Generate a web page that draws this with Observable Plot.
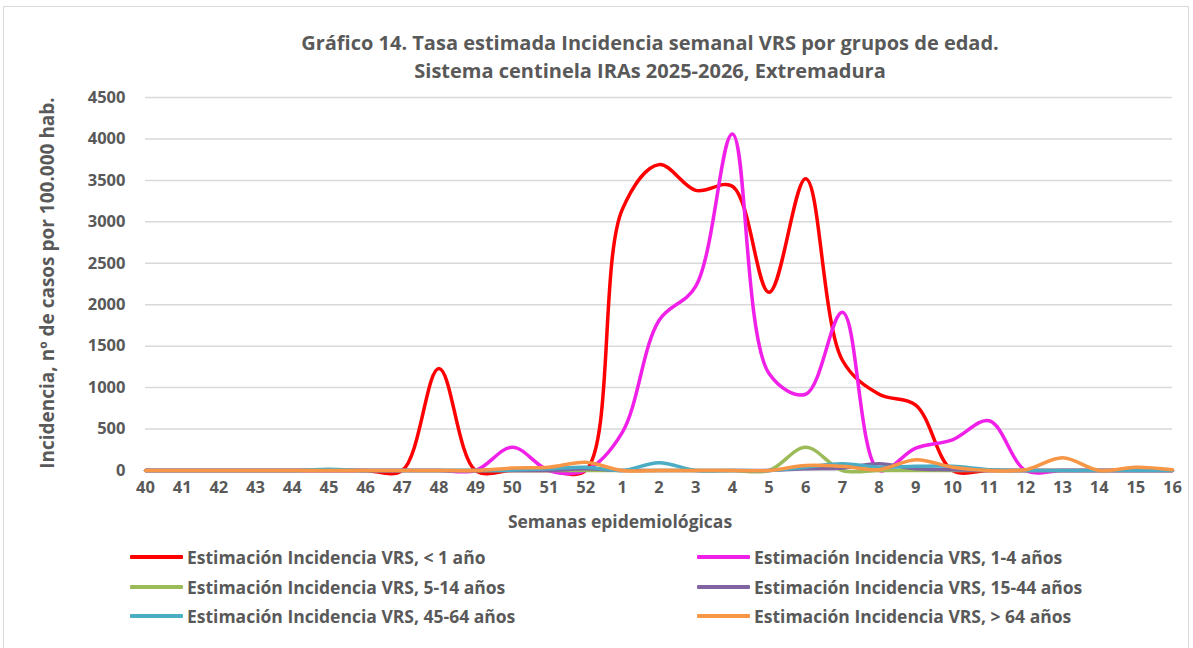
<!DOCTYPE html>
<html>
<head>
<meta charset="utf-8">
<script src="https://cdn.jsdelivr.net/npm/d3@7"></script>
<script src="https://cdn.jsdelivr.net/npm/@observablehq/plot@0.6"></script>
<style>
  html, body { margin: 0; padding: 0; background: #ffffff; }
  #root { position: relative; width: 1193px; height: 648px; overflow: hidden; font-family: "Open Sans", Lato, sans-serif; color: #595959; }
  #frame { position: absolute; left: 3px; top: 6px; width: 1186px; height: 645px; border: 1px solid #d9d9d9; box-sizing: border-box; }
  .title { position: absolute; left: 0; width: 1300px; text-align: center; font-weight: bold; font-size: 20px; white-space: nowrap; }
  #chart { position: absolute; left: 0; top: 80px; }
  #xtitle { position: absolute; left: 420px; width: 400px; top: 509px; text-align: center; font-weight: bold; font-size: 17.5px; }
  #ytitle { position: absolute; left: 47px; top: 283px; transform: translate(-50%, -50%) rotate(-90deg); white-space: nowrap; font-weight: bold; font-size: 19px; }
  .leg { position: absolute; display: flex; align-items: center; font-weight: bold; font-size: 17.5px; white-space: nowrap; height: 20px; }
  .leg .sw { width: 53px; height: 4px; margin-right: 4px; border-radius: 1px; }
</style>
</head>
<body>
<div id="root">
  <div id="frame"></div>
  <div class="title" id="t1" style="top:29px;"></div>
  <div class="title" id="t2" style="top:57px;"></div>
  <div id="chart"></div>
  <div id="xtitle"></div>
  <div id="ytitle"></div>
</div>
<script>
const titleLine1 = "Gráfico 14. Tasa estimada Incidencia semanal VRS por grupos de edad.";
const titleLine2 = "Sistema centinela IRAs 2025-2026, Extremadura";
const xTitle = "Semanas epidemiológicas";
const yTitle = "Incidencia, nº de casos por 100.000 hab.";

const weeks = ["40","41","42","43","44","45","46","47","48","49","50","51","52",
               "1","2","3","4","5","6","7","8","9","10","11","12","13","14","15","16"];

const menor1  = [0,0,0,0,0,0,0,0,1230,0,0,0,0, 3150,3690,3380,3430,2150,3520,1330,920,790,0,0,0,0,0,0,0];
const de1a4   = [0,0,0,0,0,0,0,0,0,0,280,0,0, 460,1810,2220,4060,1170,920,1910,0,270,370,600,0,0,0,0,0];
const de5a14  = [0,0,0,0,0,0,0,0,0,0,0,0,0, 0,0,0,0,0,280,0,0,0,0,0,0,0,0,0,0];
const de15a44 = [0,0,0,0,0,0,0,0,0,0,0,0,20, 0,0,0,0,0,20,30,80,20,10,0,0,0,0,0,0];
const de45a64 = [0,0,0,0,0,15,0,0,0,0,5,20,40, 0,95,0,0,0,40,80,40,50,50,10,0,0,0,0,0];
const mayor64 = [0,0,0,0,0,0,0,0,0,0,30,40,100, 0,0,0,0,0,60,50,10,130,40,0,10,155,0,40,10];

const seriesNames = [
  "Estimación Incidencia VRS, < 1 año",
  "Estimación Incidencia VRS, 1-4 años",
  "Estimación Incidencia VRS, 5-14 años",
  "Estimación Incidencia VRS, 15-44 años",
  "Estimación Incidencia VRS, 45-64 años",
  "Estimación Incidencia VRS, > 64 años"
];
const seriesColors = ["#ff0000", "#f020e8", "#9bbb59", "#8064a2", "#4bacc6", "#f79646"];
const seriesValues = [menor1, de1a4, de5a14, de15a44, de45a64, mayor64];
const yTicks = [0,500,1000,1500,2000,2500,3000,3500,4000,4500];

const rows = [];
seriesNames.forEach((name, s) => {
  weeks.forEach((w, i) => rows.push({serie: name, week: w, value: seriesValues[s][i]}));
});

document.getElementById("t1").textContent = titleLine1;
document.getElementById("t2").textContent = titleLine2;
document.getElementById("xtitle").textContent = xTitle;
document.getElementById("ytitle").textContent = yTitle;

const chart = Plot.plot({
  width: 1193,
  height: 470,
  marginLeft: 145,
  marginRight: 21,
  marginTop: 17,
  marginBottom: 80,
  style: {fontFamily: "'Open Sans', Lato, sans-serif", fontWeight: "bold", fontSize: "16.5px", color: "#595959", background: "transparent"},
  x: {type: "point", domain: weeks, padding: 0, round: false},
  y: {domain: [0, 4500]},
  color: {domain: seriesNames, range: seriesColors},
  marks: [
    Plot.gridY(yTicks, {stroke: "#d9d9d9", strokeOpacity: 1, strokeWidth: 1.5}),
    Plot.axisY(yTicks, {tickSize: 0, tickPadding: 20, tickFormat: d3.format("d"), label: null}),
    Plot.axisX({tickSize: 0, tickPadding: 11, label: null}),
    Plot.line(rows, {x: "week", y: "value", z: "serie", stroke: "serie", curve: "catmull-rom", strokeWidth: 3.5, strokeLinejoin: "round", strokeLinecap: "round"})
  ]
});
document.getElementById("chart").appendChild(chart);

// Legend
const root = document.getElementById("root");
const legPos = [[130, 547], [697, 547], [130, 577], [697, 577], [130, 606], [697, 606]];
seriesNames.forEach((name, i) => {
  const d = document.createElement("div");
  d.className = "leg";
  d.style.left = legPos[i][0] + "px";
  d.style.top = legPos[i][1] + "px";
  const sw = document.createElement("span");
  sw.className = "sw";
  sw.style.background = seriesColors[i];
  const tx = document.createElement("span");
  tx.textContent = name;
  d.appendChild(sw);
  d.appendChild(tx);
  root.appendChild(d);
});
</script>
</body>
</html>
